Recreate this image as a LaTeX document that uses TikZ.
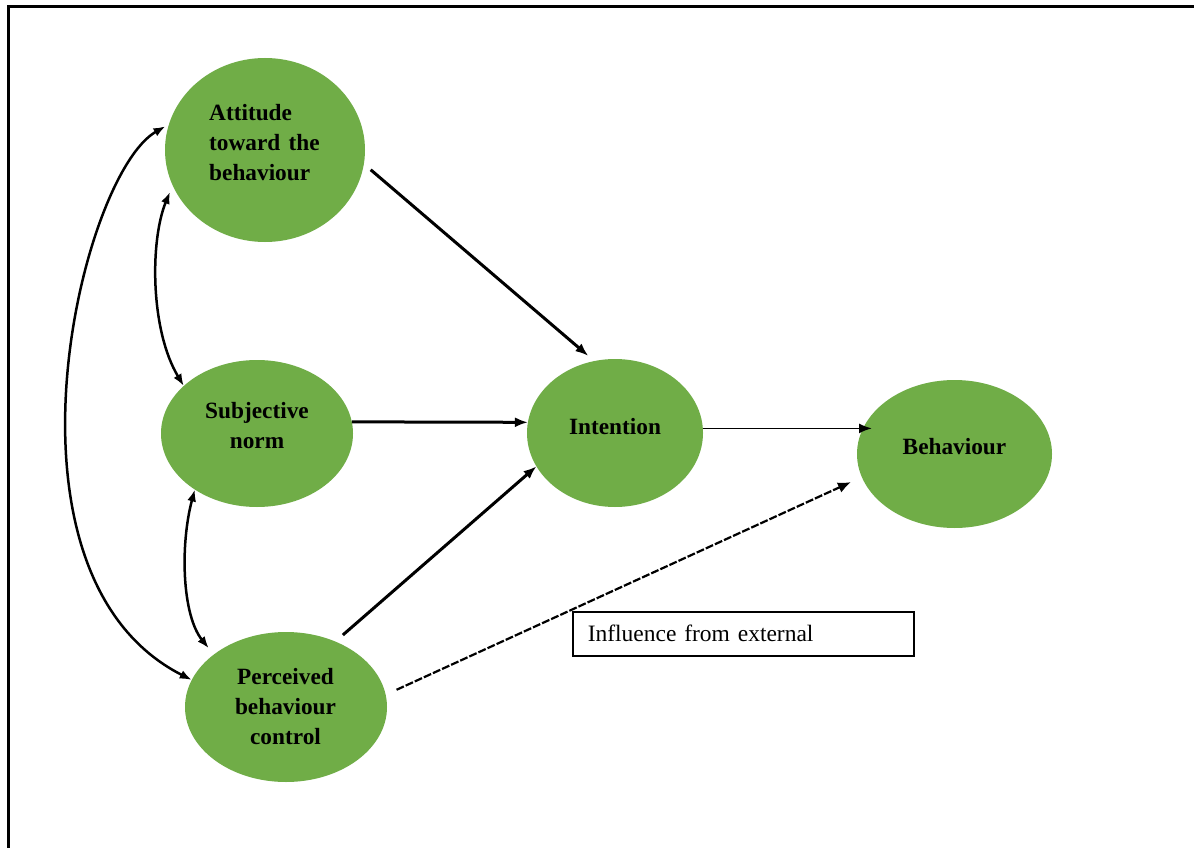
\documentclass[tikz,border=0pt]{standalone}
\usepackage{fontspec}
\setmainfont{Liberation Serif}
\usetikzlibrary{arrows.meta,shapes.geometric}
\definecolor{cgreen}{HTML}{70AD47}
\tikzset{
  bubble/.style={ellipse, fill=cgreen, draw=none, inner sep=0pt, outer sep=0pt},
  lbl/.style={inner sep=0pt, font=\fontsize{23.3}{30}\selectfont\bfseries},
  link/.style={line width=3pt, -{Latex[length=13pt,width=10pt]}},
  flow/.style={line width=1.8pt, -{Latex[length=13pt,width=10pt]}},
  outside/.style={line width=2.2pt, dash pattern=on 8pt off 2pt, -{Latex[length=13pt,width=11pt]}},
  corr/.style={line width=2.5pt, {Latex[length=12pt,width=9pt]}-{Latex[length=12pt,width=9pt]}},
  note/.style={draw, line width=1.5pt, rectangle, inner xsep=15pt, inner ysep=0pt,
    minimum height=44pt, text width=311pt, align=left,
    font=\fontsize{23.5}{28}\selectfont},
  frame/.style={line width=3.2pt}
}
\begin{document}
\begin{tikzpicture}[x=1pt,y=-1pt]
\useasboundingbox (0,0) rectangle (1194,848);
\fill[white] (0,0) rectangle (1194,848);

% frame edges
\coordinate (ftop) at (1194,6.5);
\coordinate (fcorner) at (8.5,6.5);
\coordinate (fbot) at (8.5,848);
\draw[frame] (ftop) -- (fcorner) -- (fbot);

% constructs
\node[bubble, minimum width=200pt, minimum height=184pt] (att) at (265,150) {};
\node[bubble, minimum width=192pt, minimum height=147pt] (subj) at (257,433.5) {};
\node[bubble, minimum width=202pt, minimum height=150pt] (perc) at (286,707) {};
\node[bubble, minimum width=176pt, minimum height=148pt] (int) at (615,433) {};
\node[bubble, minimum width=195pt, minimum height=148pt] (beh) at (954.5,454) {};

% labels
\node[lbl, anchor=base west] (attl) at (209,121)
  {\begin{tabular}[t]{@{}l@{}}Attitude\\toward\hspace{0.35em}the\\behaviour\end{tabular}};
\node[lbl, anchor=base] (subjl) at (257,418)
  {\begin{tabular}[t]{@{}c@{}}Subjective\\norm\end{tabular}};
\node[lbl, anchor=base] (percl) at (285.5,684)
  {\begin{tabular}[t]{@{}c@{}}Perceived\\behaviour\\control\end{tabular}};
\node[lbl, anchor=base] (intl) at (615,434) {Intention};
\node[lbl, anchor=base] (behl) at (954.5,454) {Behaviour};

% note box
\node[note, anchor=north west] (ext) at (572,611) {Influence from external};

% paths to intention and behaviour
\draw[link, shorten <=9pt, shorten >=8pt] (att.-8) -- (int.106.7);
\draw[link] (subj.7.4) -- (int.173);
\draw[link, shorten <=10pt] (perc.53.9) -- (int.203.4);
\draw[flow, shorten >=-15pt] (int.3) -- (int.3 -| beh.west);
\draw[outside, shorten <=12pt, shorten >=12pt] (perc.7.6) -- (beh.194.5);

% correlations among the predictors
\draw[corr, shorten <=7pt] (att.201) .. controls (150,240) and (150,330) .. (subj.147.4);
\draw[corr, shorten >=8pt] (subj.222.3) .. controls (180,545) and (182,615) .. (perc.144.2);
\draw[corr, shorten <=4pt] (att.165.4) .. controls (80,175) and (-15,575) .. (perc.164.3);
\end{tikzpicture}
\end{document}
